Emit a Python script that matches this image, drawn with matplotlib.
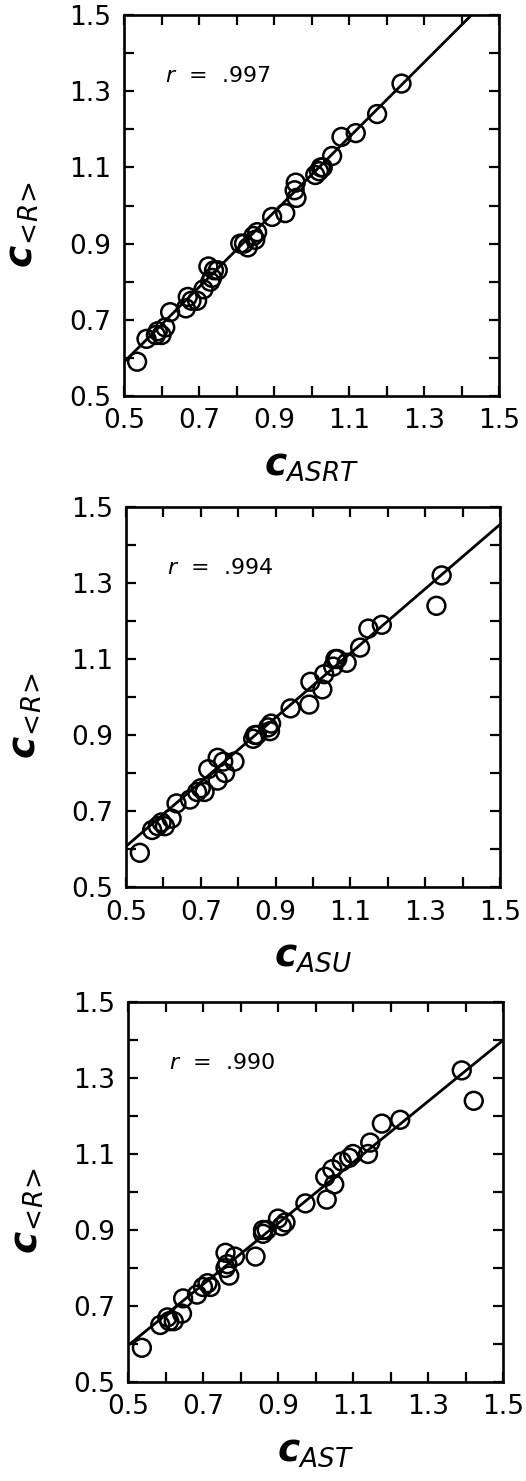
import numpy as np
import matplotlib
matplotlib.use("Agg")
import matplotlib.pyplot as plt

plt.rcParams["font.family"] = "DejaVu Sans"
plt.rcParams["mathtext.fontset"] = "custom"
plt.rcParams["mathtext.rm"] = "DejaVu Sans"
plt.rcParams["mathtext.it"] = "DejaVu Sans:italic"
plt.rcParams["mathtext.bf"] = "DejaVu Sans:bold:italic"

# C<R> values (shared by the three panels)
c_r = [0.59, 0.65, 0.66, 0.66, 0.67, 0.68, 0.72, 0.73, 0.75, 0.75, 0.76, 0.78,
       0.80, 0.81, 0.83, 0.83, 0.84, 0.89, 0.90, 0.90, 0.91, 0.92, 0.93, 0.97,
       0.98, 1.02, 1.04, 1.06, 1.08, 1.09, 1.10, 1.10, 1.13, 1.18, 1.19, 1.24, 1.32]

c_asrt = [0.535, 0.560, 0.585, 0.600, 0.590, 0.610, 0.623, 0.665, 0.680, 0.695,
          0.670, 0.712, 0.730, 0.735, 0.740, 0.750, 0.725, 0.830, 0.810, 0.820,
          0.850, 0.845, 0.855, 0.895, 0.930, 0.960, 0.955, 0.958, 1.010, 1.020,
          1.025, 1.030, 1.055, 1.080, 1.118, 1.175, 1.240]

c_asu = [0.537, 0.570, 0.604, 0.585, 0.595, 0.622, 0.635, 0.671, 0.690, 0.710,
         0.700, 0.745, 0.765, 0.720, 0.790, 0.760, 0.745, 0.840, 0.850, 0.845,
         0.885, 0.880, 0.888, 0.940, 0.990, 1.025, 0.993, 1.030, 1.054, 1.090,
         1.065, 1.060, 1.126, 1.148, 1.184, 1.330, 1.344]

c_ast = [0.537, 0.586, 0.610, 0.622, 0.605, 0.644, 0.647, 0.684, 0.720, 0.700,
         0.712, 0.770, 0.760, 0.765, 0.785, 0.840, 0.760, 0.860, 0.870, 0.860,
         0.910, 0.920, 0.900, 0.973, 1.030, 1.050, 1.026, 1.045, 1.070, 1.090,
         1.100, 1.140, 1.146, 1.177, 1.226, 1.422, 1.390]

# regression lines (intercept, slope)
fits = [(0.0975, 0.983), (0.1835, 0.847), (0.1945, 0.803)]
r_values = [".997", ".994", ".990"]
x_labels = ["ASRT", "ASU", "AST"]
x_sets = [c_asrt, c_asu, c_ast]

major = [0.5, 0.7, 0.9, 1.1, 1.3, 1.5]
minor = [0.6, 0.8, 1.0, 1.2, 1.4]

W, H = 526, 1481
fig = plt.figure(figsize=(W / 100, H / 100), dpi=100)

# axes boxes in pixels: left, top, right, bottom
boxes = [(124, 15, 499, 396), (126, 507, 500, 887), (128, 1002, 503, 1382)]

for box, xs, fit, rv, xl in zip(boxes, x_sets, fits, r_values, x_labels):
    l, t, r, b = box
    ax = fig.add_axes([l / W, 1 - b / H, (r - l) / W, (b - t) / H])
    ax.scatter(xs, c_r, s=165, facecolors="none", edgecolors="black",
               linewidths=1.8, zorder=3)
    lx = np.array([0.5, 1.5])
    ax.plot(lx, fit[0] + fit[1] * lx, color="black", lw=2.0, zorder=2)
    ax.set_xlim(0.5, 1.5)
    ax.set_ylim(0.5, 1.5)
    ax.set_xticks(major)
    ax.set_yticks(major)
    ax.set_xticks(minor, minor=True)
    ax.set_yticks(minor, minor=True)
    ax.set_xticklabels([f"{v:.1f}" for v in major])
    ax.set_yticklabels([f"{v:.1f}" for v in major])
    ax.tick_params(which="both", direction="in", top=True, right=True,
                   length=7, width=1.6, labelsize=19)
    ax.tick_params(axis="x", pad=9)
    ax.tick_params(axis="y", pad=9)
    for sp in ax.spines.values():
        sp.set_linewidth(1.9)
    ax.text(0.11, 0.84, r"$r$  =  " + rv, transform=ax.transAxes,
            fontsize=16, va="center", ha="left")
    ax.set_xlabel(r"$\mathbf{c}_{\mathit{" + xl + "}}$", fontsize=27)
    ax.xaxis.set_label_coords(0.5, -0.135)
    ax.set_ylabel(r"$\mathbf{c}_{\!<\!\mathit{R}\!>}$", fontsize=27)
    ax.yaxis.set_label_coords(-0.22, 0.45)

fig.savefig("out.png", dpi=100)
